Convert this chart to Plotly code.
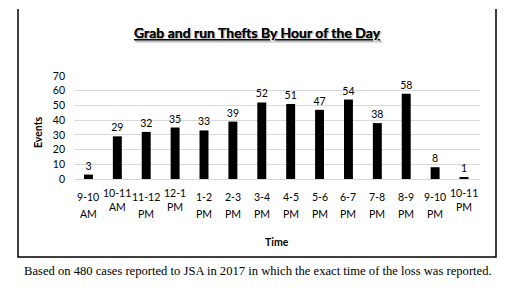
import plotly.graph_objects as go

categories = ["9-10 AM", "10-11 AM", "11-12 PM", "12-1 PM", "1-2 PM", "2-3 PM", "3-4 PM",
              "4-5 PM", "5-6 PM", "6-7 PM", "7-8 PM", "8-9 PM", "9-10 PM", "10-11 PM"]
events = [3, 29, 32, 35, 33, 39, 52, 51, 47, 54, 38, 58, 8, 1]
y_ticks = [0, 10, 20, 30, 40, 50, 60, 70]
title = "Grab and run Thefts By Hour of the Day"
x_title = "Time"
y_title = "Events"
caption = "Based on 480 cases reported to JSA in 2017 in which the exact time of the loss was reported."

W, H = 518, 304
L, R, T, B = 74, 480, 76, 179
def py(p):  # pixel y -> paper y
    return (B - p) / (B - T)
def px(p):
    return (p - L) / (R - L)

FONT = "Lato"
compact = {"10-11 AM", "12-1 PM", "10-11 PM"}

fig = go.Figure(go.Bar(
    x=categories, y=events, marker=dict(color="black", line=dict(width=0)),
    text=[str(v) for v in events], textposition="outside", constraintext="none",
    textfont=dict(family=FONT, size=10.5, color="black"), cliponaxis=False,
))

ann = []
for c in categories:
    l1, l2 = c.split(" ")
    y1, y2 = (193, 207) if c in compact else (197, 214)
    ann.append(dict(x=c, xref="x", y=py(y1), yref="paper", text=l1, showarrow=False,
                    font=dict(family=FONT, size=10.5, color="black"), yanchor="middle"))
    ann.append(dict(x=c, xref="x", y=py(y2), yref="paper", text=l2, showarrow=False,
                    font=dict(family=FONT, size=10.5, color="black"), yanchor="middle"))
ann.append(dict(x=0.5, xref="paper", y=py(242), yref="paper", text="<b>" + x_title + "</b>",
                showarrow=False, font=dict(family=FONT, size=10.5, color="black"), yanchor="middle"))
ann.append(dict(x=px(38), xref="paper", y=py(132), yref="paper", text="<b>" + y_title + "</b>",
                textangle=-90, showarrow=False, font=dict(family=FONT, size=10.5, color="black"),
                xanchor="center", yanchor="middle"))
ann.append(dict(x=px(22), xref="paper", y=py(271), yref="paper", text=caption, xanchor="left",
                showarrow=False, font=dict(family="Liberation Serif", size=12.6, color="black"),
                yanchor="middle"))
ann.append(dict(x=px(257), xref="paper", y=py(32), yref="paper", text="<b>" + title + "</b>",
                showarrow=False, yanchor="middle",
                font=dict(family=FONT, size=14, color="black", lineposition="under",
                          shadow="1px 1px 1px #bbb")))

fig.update_layout(
    width=W, height=H, margin=dict(l=L, r=W - R, t=T, b=H - B),
    paper_bgcolor="white", plot_bgcolor="white", showlegend=False,
    bargap=0.69, annotations=ann,
    shapes=[dict(type="path", xref="paper", yref="paper", layer="above",
                 path=f"M {px(18)} {py(9)} L {px(18)} {py(257)} L {px(496)} {py(257)} L {px(496)} {py(9)}",
                 line=dict(color="black", width=1.5))],
)
fig.update_xaxes(showticklabels=False, showline=False, showgrid=False, ticks="")
fig.update_yaxes(range=[0, 70], tickvals=y_ticks, showgrid=True, gridcolor="#d9d9d9", gridwidth=1,
                 zeroline=True, zerolinecolor="#d9d9d9", zerolinewidth=1, showline=False,
                 tickfont=dict(family=FONT, size=10.5, color="black"), ticklabelstandoff=8)

fig.write_html("out.html")
